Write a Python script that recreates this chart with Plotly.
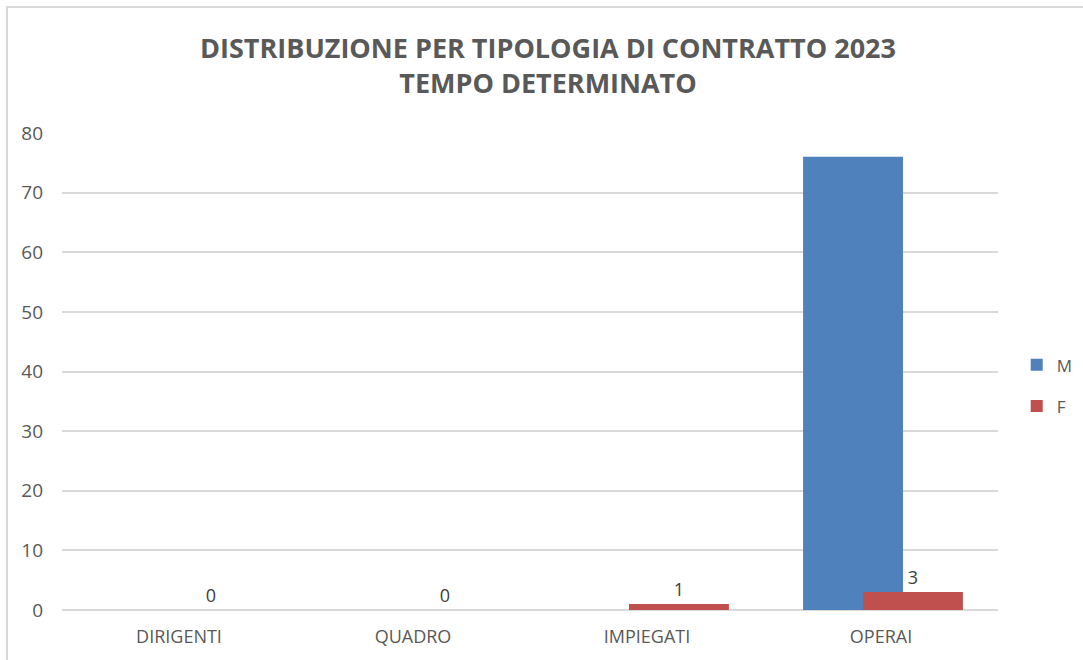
import plotly.graph_objects as go

# Dati
categorie = ["DIRIGENTI", "QUADRO", "IMPIEGATI", "OPERAI"]
maschi = [0, 0, 0, 76]
femmine = [0, 0, 1, 3]
tick_y = [0, 10, 20, 30, 40, 50, 60, 70, 80]

grigio = "#595959"
font_base = "Open Sans"

fig = go.Figure()

fig.add_trace(go.Bar(
    x=categorie, y=maschi, name="M",
    marker=dict(color="#4F81BD", line=dict(width=0)),
    width=0.427, offset=-0.333,
    legendgroup="M",
))
fig.add_trace(go.Bar(
    x=categorie, y=femmine, name="F",
    marker=dict(color="#C0504D", line=dict(width=0)),
    width=0.427, offset=-0.077,
    text=femmine, textposition="outside", cliponaxis=False,
    textfont=dict(size=18, color="#404040", family=font_base),
    legendgroup="F",
))

fig.update_layout(
    width=1083, height=660,
    margin=dict(l=62, r=85, t=133, b=50, autoexpand=False),
    paper_bgcolor="white", plot_bgcolor="white",
    barmode="overlay",
    font=dict(family=font_base, color=grigio, size=18),
    title=dict(
        text="<b>DISTRIBUZIONE PER TIPOLOGIA DI CONTRATTO 2023<br>TEMPO DETERMINATO</b>",
        x=548 / 1083, xanchor="center", xref="container",
        y=1 - 58 / 660, yanchor="middle", yref="container",
        font=dict(size=27, color=grigio, family=font_base),
    ),
    legend=dict(
        x=1.02, xanchor="left", y=0.47, yanchor="middle",
        font=dict(size=17, color=grigio),
        tracegroupgap=16, traceorder="grouped",
    ),
    showlegend=True,
    # cornice grigia del grafico
    shapes=[dict(
        type="rect", xref="paper", yref="paper",
        x0=(7 - 62) / 936, x1=(1095 - 62) / 936,
        y0=(610 - 670) / 477, y1=(610 - 7) / 477,
        line=dict(color="#d9d9d9", width=2), layer="below",
    )],
)

fig.update_xaxes(
    showgrid=False, showline=False, ticks="",
    ticklabelstandoff=14,
    tickfont=dict(size=18, color=grigio),
)
fig.update_yaxes(
    range=[0, 80], tickvals=tick_y,
    showgrid=True, gridcolor="#d9d9d9", gridwidth=1.5,
    zeroline=True, zerolinecolor="#d9d9d9", zerolinewidth=1.5,
    showline=False, ticks="", ticklabelstandoff=18,
    tickfont=dict(size=19, color=grigio),
)

fig.write_html("out.html", config={"displayModeBar": False},
               post_script="document.body.style.margin='0';")
